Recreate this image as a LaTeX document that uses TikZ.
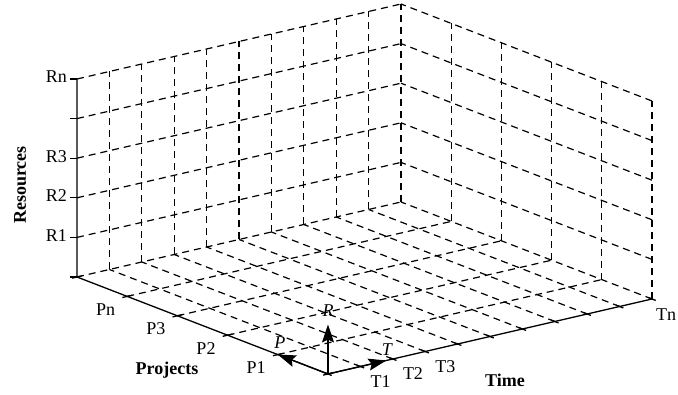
\documentclass[tikz,border=0pt]{standalone}
\usepackage{fontspec}
\setmainfont{Liberation Serif}
\usetikzlibrary{arrows.meta}
\makeatletter
\renewcommand\small{%
  \@setfontsize\small{18pt}{20pt}%
}
\makeatother

\begin{document}
\begin{tikzpicture}[x={(324pt,75pt)}, y={(0pt,198pt)}, z={(-251pt,97pt)},
  every node/.style={font=\small, inner sep=0pt},
  axis/.style={line width=1.3pt}, gridline/.style={line width=1.2pt, dash pattern=on 7pt off 5pt},
  unitarrow/.style={line width=1.3pt, -{Stealth[length=18pt,width=12pt,inset=3pt]}}]
  \useasboundingbox (-328pt,-21pt) rectangle (350pt,374pt);
  \coordinate (O) at (0,0,0);
  \coordinate (Pend) at (0,0,1);
  \coordinate (Tend) at (1,0,0);
  \coordinate (Rend) at (0,1,1);
  % floor
  \foreach \i in {1,...,10} \draw[gridline] ({\i/10},0,0) -- ({\i/10},0,1);
  \foreach \j in {1,...,5} \draw[gridline] (0,0,{\j/5}) -- (1,0,{\j/5});
  % back wall, time x resources
  \foreach \i in {1,...,10} \draw[gridline] ({\i/10},0,1) -- ({\i/10},1,1);
  \foreach \k in {1,...,5} \draw[gridline] (0,{\k/5},1) -- (1,{\k/5},1);
  % side wall, projects x resources
  \foreach \j in {0,...,4} \draw[gridline] (1,0,{\j/5}) -- (1,1,{\j/5});
  \foreach \k in {1,...,5} \draw[gridline] (1,{\k/5},0) -- (1,{\k/5},1);
  % axes and ticks
  \draw[axis] (Tend) -- (O) -- (Pend) -- (Rend);
  \foreach \i in {0,...,10} \draw[axis] ({\i/10},0,-0.015) -- ({\i/10},0,0.015);
  \foreach \j in {0,...,5} \draw[axis] (-0.015,0,{\j/5}) -- (0.015,0,{\j/5});
  \foreach \k in {0,...,5} \draw[axis] (0,{\k/5},1) -- ++(-7pt,0pt);
  % unit arrows
  \coordinate (Rarrow) at (0,0.25,0);
  \coordinate (Parrow) at (0,0,0.2);
  \coordinate (Tarrow) at (0.18,0,0);
  \draw[unitarrow] (O) -- (Rarrow);
  \draw[unitarrow] (O) -- (Parrow);
  \draw[unitarrow] (O) -- (Tarrow);
  \node (rlab) at (0,0.32,0) {\textit{R}};
  \node[xshift=2pt, yshift=12pt] (plab) at (Parrow) {\textit{P}};
  \node[xshift=1pt, yshift=10.5pt] (tlab) at (Tarrow) {\textit{T}};
  % labels
  \foreach \k/\lab in {1/R1,2/R2,3/R3,5/Rn} \node[anchor=east, xshift=-10pt, yshift=2pt] (r\k) at (0,{\k/5},1) {\lab};
  \foreach \j/\lab in {3/P1,5/P2,7/P3,9/Pn} \node[xshift=3.5pt, yshift=-23pt] (p\j) at (0,0,{\j/10}) {\lab};
  \foreach \i/\lab in {15/T1,25/T2,35/T3} \node[xshift=4pt, yshift=-18.5pt] (t\i) at ({\i/100},0,0) {\lab};
  \node[anchor=west, xshift=4pt, yshift=-16pt] (tn) at (Tend) {Tn};
  \node[rotate=90, font=\small\bfseries] (reslab) at (-308pt,189pt) {Resources};
  \node[font=\small\bfseries] (projlab) at (-161pt,3.5pt) {Projects};
  \node[font=\small\bfseries] (timelab) at (177pt,-6pt) {Time};
\end{tikzpicture}
\end{document}
